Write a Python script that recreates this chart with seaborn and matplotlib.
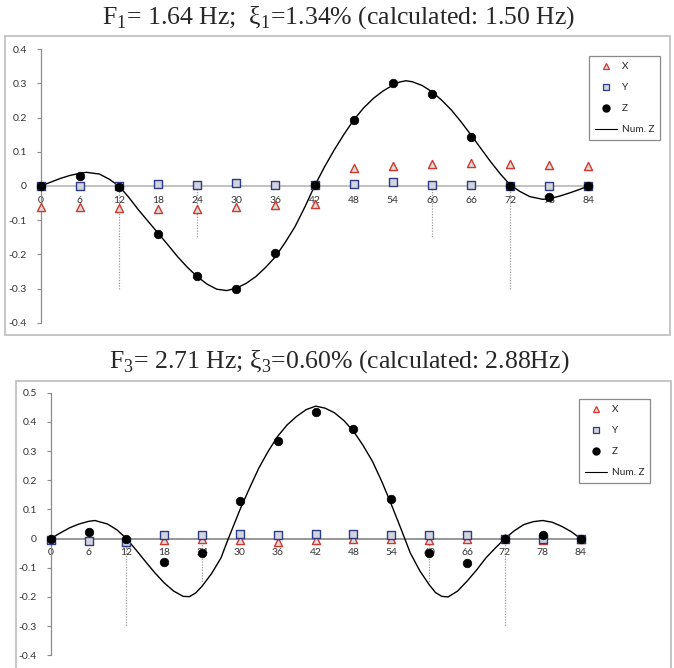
import matplotlib
matplotlib.use("Agg")
import matplotlib.pyplot as plt
import seaborn as sns
import pandas as pd
from matplotlib.lines import Line2D
from matplotlib.patches import Rectangle

# ---------------- data ----------------
stations = [0, 6, 12, 18, 24, 30, 36, 42, 48, 54, 60, 66, 72, 78, 84]

# Mode 1
m1_x = [-0.060, -0.060, -0.063, -0.068, -0.068, -0.060, -0.057, -0.053,
        0.053, 0.058, 0.064, 0.068, 0.064, 0.060, 0.058]
m1_y = [0.000, -0.001, 0.000, 0.006, 0.002, 0.010, 0.002, 0.002,
        0.007, 0.011, 0.003, 0.002, 0.001, 0.000, 0.000]
m1_z = [0.000, 0.029, -0.002, -0.141, -0.263, -0.302, -0.197, 0.003,
        0.192, 0.301, 0.269, 0.142, 0.000, -0.031, 0.000]
m1_num_x = [0, 1.5, 3, 4.5, 6, 7, 9, 10.5, 12, 13.5, 15, 16.5, 18, 19.5, 21, 22.5,
            24, 25.5, 27, 28.5, 30, 31.5, 33, 34.5, 36, 37.5, 39, 40.5, 42, 43.5,
            45, 46.5, 48, 49.5, 51, 52.5, 54, 55, 56, 57, 58.5, 60, 61.5, 63, 64.5,
            66, 67.5, 69, 70.5, 72, 73.5, 75, 77, 78, 79.5, 81, 82.5, 84]
m1_num_z = [0.000, 0.011, 0.022, 0.031, 0.037, 0.040, 0.035, 0.020, 0.000,
            -0.033, -0.070, -0.104, -0.138, -0.172, -0.207, -0.238, -0.265,
            -0.287, -0.302, -0.306, -0.299, -0.285, -0.265, -0.238, -0.207,
            -0.165, -0.119, -0.062, 0.000, 0.055, 0.105, 0.151, 0.193, 0.228,
            0.256, 0.278, 0.295, 0.304, 0.308, 0.305, 0.294, 0.276, 0.251,
            0.222, 0.187, 0.149, 0.110, 0.071, 0.035, 0.003, -0.016, -0.031,
            -0.039, -0.037, -0.030, -0.021, -0.011, 0.000]

# Mode 3
m3_x = [0.000, -0.005, -0.010, -0.005, -0.002, -0.005, -0.011, -0.004,
        -0.003, -0.002, -0.004, -0.003, 0.002, -0.005, 0.000]
m3_y = [-0.005, -0.009, -0.010, 0.013, 0.012, 0.015, 0.012, 0.015,
        0.015, 0.012, 0.014, 0.013, 0.000, -0.002, 0.000]
m3_z = [0.000, 0.021, -0.003, -0.079, -0.051, 0.130, 0.335, 0.434,
        0.376, 0.134, -0.051, -0.085, 0.000, 0.013, 0.000]
m3_num_x = [0, 1.5, 3, 4.5, 6, 7, 9, 10.5, 12, 13.5, 15, 16.5, 18, 19.5, 21, 22, 23,
            24, 25.5, 27, 28, 29, 30, 31.5, 33, 34.5, 36, 37.5, 39, 40.5, 42, 43.5,
            45, 46.5, 48, 49.5, 51, 52.5, 54, 55.5, 57, 58.5, 60, 61, 62, 63, 64.5,
            66, 67.5, 69, 70.5, 72, 73.5, 75, 76.5, 78, 79.5, 81, 82.5, 84]
m3_num_z = [0.000, 0.019, 0.037, 0.050, 0.059, 0.062, 0.050, 0.030, 0.000,
            -0.038, -0.078, -0.117, -0.152, -0.180, -0.198, -0.199, -0.186,
            -0.163, -0.120, -0.066, -0.009, 0.045, 0.099, 0.172, 0.242, 0.300,
            0.351, 0.390, 0.419, 0.442, 0.454, 0.447, 0.431, 0.404, 0.368,
            0.320, 0.265, 0.195, 0.117, 0.035, -0.049, -0.110, -0.158, -0.185,
            -0.198, -0.200, -0.180, -0.146, -0.108, -0.066, -0.032, 0.000,
            0.027, 0.048, 0.058, 0.062, 0.056, 0.042, 0.024, 0.000]

sensor_x = [12, 24, 60, 72]
sensor_depth = [-0.30, -0.15, -0.15, -0.30]

titles = [r"F$_\mathregular{1}$= 1.64 Hz;  ξ$_\mathregular{1}$=1.34% (calculated: 1.50 Hz)",
          r"F$_\mathregular{3}$= 2.71 Hz; ξ$_\mathregular{3}$=0.60% (calculated: 2.88Hz)"]
legend_labels = ["X", "Y", "Z", "Num. Z"]

# ---------------- style ----------------
sns.set_theme(style="white")
plt.rcParams["font.family"] = ["Lato", "DejaVu Sans"]
plt.rcParams["mathtext.fontset"] = "custom"
plt.rcParams["mathtext.rm"] = "Liberation Serif"

RED = "#d2382c"
NAVY = "#2c3c88"
TRI_FACE = "#dcdcdc"
SQ_FACE = "#d4d4dc"
GRAY = "#8c8c8c"

W, H = 674, 668
fig = plt.figure(figsize=(W / 100, H / 100), dpi=100)


def fx(px):
    return px / W


def fy(py):
    return 1 - py / H


def panel(rect, ylim, yticks, xs, ys, zs, nx, nz, frame, title_y, title, leg_anchor, axis_col):
    # chart frame
    fig.patches.append(Rectangle((fx(frame[0]), fy(frame[3])), fx(frame[2] - frame[0]),
                                 (frame[3] - frame[1]) / H, transform=fig.transFigure,
                                 fill=False, edgecolor="#c6c6c6", linewidth=1.4, zorder=0))
    fig.text(fx(339), fy(title_y), title, ha="center", va="center", fontsize=18.5,
             family="Liberation Serif")
    ax = fig.add_axes(rect)
    ax.set_facecolor("none")
    df = pd.DataFrame({"s": stations, "x": xs, "y": ys, "z": zs})
    dn = pd.DataFrame({"s": nx, "z": nz})

    ax.vlines(sensor_x, [0] * len(sensor_x), sensor_depth, colors="#9a9a9a",
              linestyles=(0, (1, 1.2)), linewidth=0.9, zorder=1)
    sns.lineplot(data=dn, x="s", y="z", ax=ax, color="black", linewidth=1.0,
                 sort=False, estimator=None, zorder=3)
    sns.scatterplot(data=df, x="s", y="x", ax=ax, marker="^", s=34, color=TRI_FACE,
                    edgecolor=RED, linewidth=1.0, zorder=4, clip_on=False)
    sns.scatterplot(data=df, x="s", y="y", ax=ax, marker="s", s=30, color=SQ_FACE,
                    edgecolor=NAVY, linewidth=1.0, zorder=4, clip_on=False)
    sns.scatterplot(data=df, x="s", y="z", ax=ax, marker="o", s=38, color="black",
                    edgecolor="black", linewidth=0.5, zorder=5, clip_on=False)

    ax.set_xlim(0, 84.7)
    ax.set_ylim(*ylim)
    ax.set_xticks(stations)
    ax.set_xticklabels([str(s) for s in stations])
    ax.set_yticks(yticks)
    ax.set_yticklabels(["0" if abs(t) < 1e-9 else f"{t:.1f}" for t in yticks])
    ax.set_xlabel("")
    ax.set_ylabel("")
    for side in ["top", "right"]:
        ax.spines[side].set_visible(False)
    ax.spines["bottom"].set_position(("data", 0))
    ax.spines["bottom"].set_color(axis_col)
    ax.spines["bottom"].set_linewidth(1.1)
    ax.spines["bottom"].set_zorder(2)
    ax.spines["left"].set_color(GRAY)
    ax.spines["left"].set_linewidth(0.9)
    ax.tick_params(axis="x", length=0, pad=7, labelsize=7.5, labelcolor="#333333")
    ax.tick_params(axis="y", length=3, width=0.8, color=GRAY, pad=7, labelsize=7.5,
                   labelcolor="#333333", left=True, direction="out")

    handles = [
        Line2D([], [], linestyle="none", marker="^", markersize=5, markerfacecolor=TRI_FACE,
               markeredgecolor=RED, markeredgewidth=0.9),
        Line2D([], [], linestyle="none", marker="s", markersize=4.5, markerfacecolor=SQ_FACE,
               markeredgecolor=NAVY, markeredgewidth=0.9),
        Line2D([], [], linestyle="none", marker="o", markersize=5, markerfacecolor="black",
               markeredgecolor="black"),
        Line2D([], [], color="black", linewidth=0.8),
    ]
    leg = ax.legend(handles, legend_labels, loc="upper right",
                    bbox_to_anchor=(fx(leg_anchor[0]), fy(leg_anchor[1])),
                    bbox_transform=fig.transFigure, borderaxespad=0, fontsize=7.2,
                    frameon=True, fancybox=False, edgecolor="#8a8a8a", framealpha=1,
                    labelspacing=1.2, handlelength=2.2, handletextpad=0.5,
                    borderpad=0.6)
    leg.get_frame().set_linewidth(0.9)
    return ax


panel([fx(40.7), fy(322.7), fx(593 - 40.7), (322.7 - 49.3) / H],
      (-0.4, 0.4), [-0.4, -0.3, -0.2, -0.1, 0.0, 0.1, 0.2, 0.3, 0.4],
      m1_x, m1_y, m1_z, m1_num_x, m1_num_z,
      (5, 36, 670, 335), 18, titles[0], (660, 56), "#b0b0b0")

panel([fx(50.7), fy(655.3), fx(585 - 50.7), (655.3 - 392.7) / H],
      (-0.4, 0.5), [-0.4, -0.3, -0.2, -0.1, 0.0, 0.1, 0.2, 0.3, 0.4, 0.5],
      m3_x, m3_y, m3_z, m3_num_x, m3_num_z,
      (15.7, 380.7, 670.7, 675), 362, titles[1], (650, 399.3), "#7a7a7a")

fig.savefig("out.png", dpi=100)
